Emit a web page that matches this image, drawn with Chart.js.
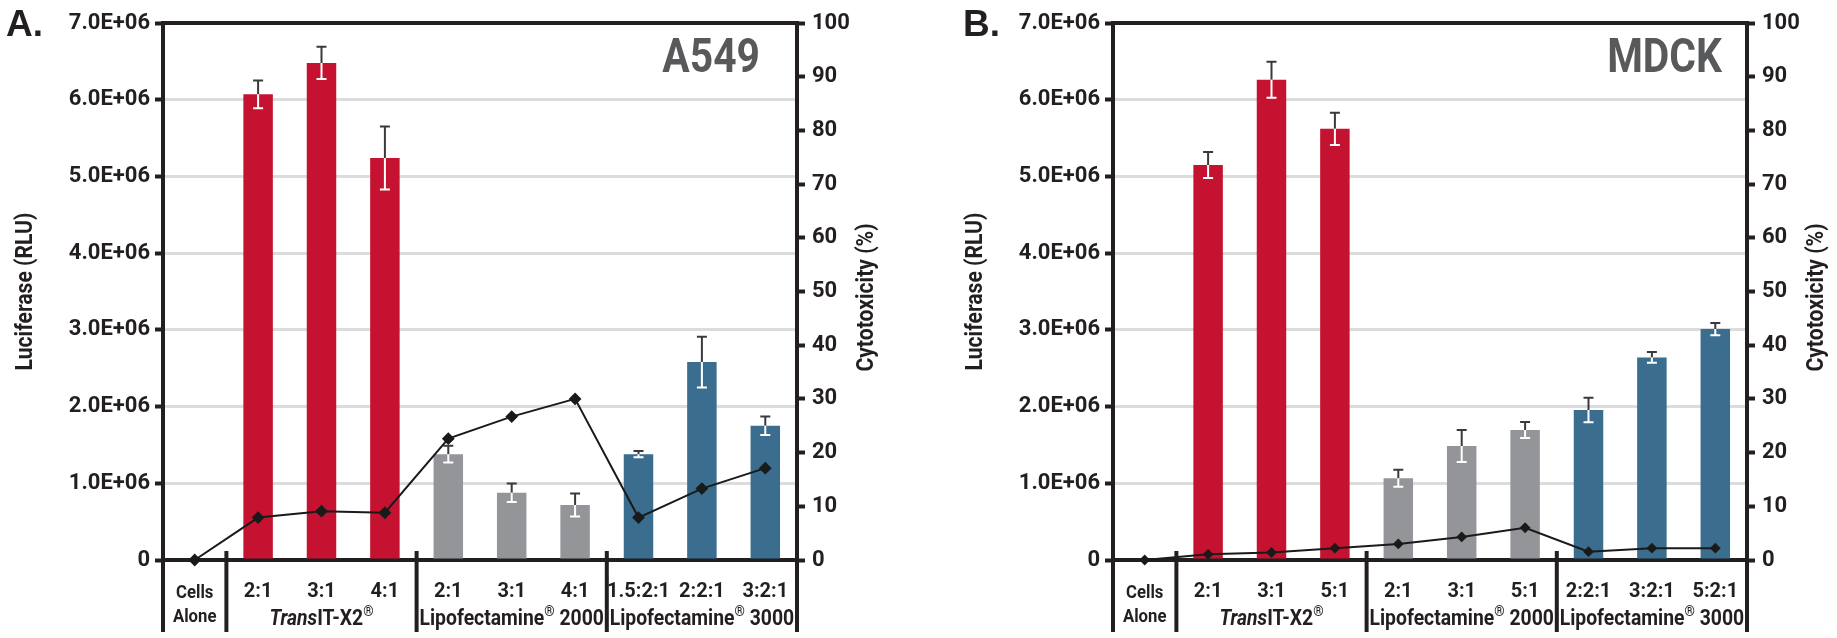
<!DOCTYPE html>
<html lang="en">
<head>
    <meta charset="UTF-8">
    <title>Luciferase e citotoxicidade - A549 e MDCK</title>
    <script src="https://cdn.jsdelivr.net/npm/chart.js"></script>
    <style>
        html, body { margin: 0; padding: 0; background: #fff; }
        .painel { position: absolute; top: 0; height: 638px; }
        #painelA { left: 0; width: 900px; }
        #painelB { left: 900px; width: 937px; }
    </style>
</head>
<body>
    <div class="painel" id="painelA"><canvas id="chartA"></canvas></div>
    <div class="painel" id="painelB"><canvas id="chartB"></canvas></div>
    <script>
        // Dados (painel A - A549)
        const razoesA = ['', '2:1', '3:1', '4:1', '2:1', '3:1', '4:1', '1.5:2:1', '2:2:1', '3:2:1'];
        const grupoIdxA = [0, 1, 1, 1, 2, 2, 2, 3, 3, 3];
        const luciferaseA = [0, 6.07e6, 6.48e6, 5.24e6, 1.38e6, 0.877e6, 0.717e6, 1.38e6, 2.58e6, 1.75e6];
        const erroA = [0, 0.18e6, 0.21e6, 0.41e6, 0.11e6, 0.12e6, 0.15e6, 0.04e6, 0.33e6, 0.12e6];
        const citotoxA = [0, 7.9, 9.1, 8.8, 22.6, 26.7, 30.0, 7.9, 13.3, 17.1];

        // Painel B - MDCK
        const razoesB = ['', '2:1', '3:1', '5:1', '2:1', '3:1', '5:1', '2:2:1', '3:2:1', '5:2:1'];
        const grupoIdxB = [0, 1, 1, 1, 2, 2, 2, 3, 3, 3];
        const luciferaseB = [0, 5.15e6, 6.26e6, 5.62e6, 1.065e6, 1.486e6, 1.695e6, 1.956e6, 2.64e6, 3.01e6];
        const erroB = [0, 0.17e6, 0.235e6, 0.21e6, 0.11e6, 0.21e6, 0.105e6, 0.16e6, 0.07e6, 0.08e6];
        const citotoxB = [0, 1.05, 1.4, 2.2, 3.0, 4.3, 6.0, 1.55, 2.2, 2.2];

        // Grupos e eixos
        const grupos = ['Cells Alone', 'TransIT-X2®', 'Lipofectamine® 2000', 'Lipofectamine® 3000'];
        const ticksEsq = [0, 1e6, 2e6, 3e6, 4e6, 5e6, 6e6, 7e6];
        const ticksDir = [0, 10, 20, 30, 40, 50, 60, 70, 80, 90, 100];

        const coresGrupo = ['#ffffff', '#c41230', '#939598', '#3a6d8e'];
        const PRETO = '#231f20';
        const FONTE = "Roboto, 'Liberation Sans', sans-serif";
        const APERTO = 0.88; // fonte "condensada" simulada nos textos do plugin

        // texto comprimido na horizontal
        function textoEstreito(ctx, texto, x, y, fator) {
            ctx.save();
            ctx.translate(x, y);
            ctx.scale(fator, 1);
            ctx.fillText(texto, 0, 0);
            ctx.restore();
        }

        // desenha texto com "Trans" em itálico e ® sobrescrito
        function textoRico(ctx, texto, cx, y, tam) {
            let partes = [];
            let resto = texto;
            if (resto.startsWith('Trans')) {
                partes.push({ t: 'Trans', it: true });
                resto = resto.slice(5);
            }
            resto.split(/(®)/).forEach(p => {
                if (p === '') return;
                partes.push({ t: p, sup: p === '®' });
            });
            const fonte = p => (p.it ? 'italic ' : '') + 'bold ' + (p.sup ? Math.round(tam * 0.7) : tam) + 'px ' + FONTE;
            let total = 0;
            partes.forEach(p => { ctx.font = fonte(p); p.w = ctx.measureText(p.t).width * APERTO; total += p.w; });
            let x = cx - total / 2;
            ctx.textAlign = 'left';
            ctx.textBaseline = 'alphabetic';
            partes.forEach(p => {
                ctx.font = fonte(p);
                textoEstreito(ctx, p.t, x, p.sup ? y - tam * 0.4 : y, APERTO);
                x += p.w;
            });
        }

        const extrasPlugin = {
            id: 'extras',
            afterDatasetDraw(chart, args) {
                if (args.index !== 0) return;
                // barras de erro
                const ctx = chart.ctx;
                const y = chart.scales.y;
                const meta = chart.getDatasetMeta(0);
                const vals = chart.data.datasets[0].data;
                const errs = chart.options.plugins.extras.erros;
                ctx.save();
                ctx.lineWidth = 2;
                meta.data.forEach((bar, i) => {
                    if (!errs[i]) return;
                    const yTopo = y.getPixelForValue(vals[i] + errs[i]);
                    const yBarra = y.getPixelForValue(vals[i]);
                    const yBaixo = y.getPixelForValue(vals[i] - errs[i]);
                    ctx.strokeStyle = '#3a3a3a';
                    ctx.beginPath();
                    ctx.moveTo(bar.x, yTopo); ctx.lineTo(bar.x, yBarra);
                    ctx.moveTo(bar.x - 5, yTopo); ctx.lineTo(bar.x + 5, yTopo);
                    ctx.stroke();
                    ctx.strokeStyle = '#ffffff';
                    ctx.beginPath();
                    ctx.moveTo(bar.x, yBarra); ctx.lineTo(bar.x, yBaixo);
                    ctx.moveTo(bar.x - 5, yBaixo); ctx.lineTo(bar.x + 5, yBaixo);
                    ctx.stroke();
                });
                ctx.restore();
            },
            afterDraw(chart) {
                const ctx = chart.ctx;
                const area = chart.chartArea;
                const x = chart.scales.x;
                const opts = chart.options.plugins.extras;
                const idx = opts.grupoIdx;
                const fundo = chart.height - 6;
                ctx.save();
                ctx.strokeStyle = PRETO;
                ctx.lineWidth = 4;
                // moldura superior e prolongamento dos eixos
                ctx.beginPath();
                ctx.moveTo(area.left - 2, area.top); ctx.lineTo(area.right + 2, area.top);
                ctx.moveTo(area.left, area.bottom); ctx.lineTo(area.left, fundo);
                ctx.moveTo(area.right, area.bottom); ctx.lineTo(area.right, fundo);
                ctx.stroke();
                // separadores entre grupos
                ctx.beginPath();
                for (let i = 1; i < idx.length; i++) {
                    if (idx[i] !== idx[i - 1]) {
                        const sx = (x.getPixelForValue(i - 1) + x.getPixelForValue(i)) / 2;
                        ctx.moveTo(sx, area.bottom - 9); ctx.lineTo(sx, fundo);
                    }
                }
                ctx.stroke();
                // nomes dos grupos
                ctx.fillStyle = PRETO;
                grupos.forEach((g, gi) => {
                    const membros = idx.map((v, i) => v === gi ? i : -1).filter(i => i >= 0);
                    const cx = (x.getPixelForValue(membros[0]) + x.getPixelForValue(membros[membros.length - 1])) / 2;
                    if (gi === 0) {
                        const linhas = g.split(' ');
                        ctx.font = 'bold 19px ' + FONTE;
                        ctx.textAlign = 'center';
                        ctx.textBaseline = 'middle';
                        textoEstreito(ctx, linhas[0], cx, 593, APERTO);
                        textoEstreito(ctx, linhas[1], cx, 617, APERTO);
                    } else {
                        textoRico(ctx, g, cx, 625, 22);
                    }
                });
                // títulos dos eixos
                ctx.font = 'bold 24px ' + FONTE;
                ctx.textAlign = 'center';
                ctx.textBaseline = 'middle';
                const cy = (area.top + area.bottom) / 2;
                ctx.save();
                ctx.translate(area.left - 137, cy);
                ctx.rotate(-Math.PI / 2);
                ctx.scale(APERTO, 1);
                ctx.fillText('Luciferase (RLU)', 0, 0);
                ctx.restore();
                ctx.save();
                ctx.translate(area.right + 70, cy + 6);
                ctx.rotate(-Math.PI / 2);
                ctx.scale(APERTO, 1);
                ctx.fillText('Cytotoxicity (%)', 0, 0);
                ctx.restore();
                // letra do painel e linhagem celular
                ctx.font = 'bold 37px "Liberation Sans", Arial, sans-serif';
                ctx.textAlign = 'left';
                ctx.textBaseline = 'alphabetic';
                ctx.fillText(opts.letra, area.left - opts.letraDx, 36);
                ctx.font = 'bold 48px ' + FONTE;
                ctx.fillStyle = '#58595b';
                ctx.textAlign = 'right';
                textoEstreito(ctx, opts.celula, area.right - opts.celulaDx, 72, 0.85);
                ctx.restore();
            }
        };

        function criarGrafico(id, razoes, grupoIdx, luciferase, erro, citotox, cfg) {
            const ctx = document.getElementById(id).getContext('2d');
            return new Chart(ctx, {
                type: 'bar',
                data: {
                    labels: razoes,
                    datasets: [{
                        type: 'bar',
                        label: 'Luciferase (RLU)',
                        data: luciferase,
                        yAxisID: 'y',
                        backgroundColor: grupoIdx.map(g => coresGrupo[g]),
                        barPercentage: 0.465,
                        categoryPercentage: 1,
                        order: 1
                    }, {
                        type: 'line',
                        label: 'Cytotoxicity (%)',
                        data: citotox,
                        yAxisID: 'y1',
                        borderColor: '#1a1a1a',
                        borderWidth: 2,
                        backgroundColor: '#1a1a1a',
                        pointStyle: 'rectRot',
                        pointRadius: cfg.raioPonto,
                        tension: 0,
                        clip: false,
                        order: 0
                    }]
                },
                options: {
                    responsive: true,
                    maintainAspectRatio: false,
                    animation: false,
                    layout: { padding: { top: 23, left: 0, right: 0, bottom: 0 } },
                    plugins: {
                        legend: { display: false },
                        tooltip: { enabled: false },
                        extras: {
                            erros: erro,
                            grupoIdx: grupoIdx,
                            letra: cfg.letra,
                            letraDx: cfg.letraDx,
                            celula: cfg.celula,
                            celulaDx: cfg.celulaDx
                        }
                    },
                    scales: {
                        x: {
                            offset: true,
                            grid: { display: false },
                            border: { display: true, color: PRETO, width: 4 },
                            ticks: {
                                color: PRETO,
                                padding: 12,
                                maxRotation: 0,
                                autoSkip: false,
                                font: { family: FONTE, size: 20, weight: 'bold' }
                            },
                            afterFit: s => { s.height = 78; }
                        },
                        y: {
                            position: 'left',
                            min: 0,
                            max: 7e6,
                            afterBuildTicks: s => { s.ticks = ticksEsq.map(v => ({ value: v })); },
                            grid: {
                                color: '#dcdcdc',
                                lineWidth: 3,
                                tickColor: PRETO,
                                tickWidth: 4,
                                tickLength: 8
                            },
                            border: { color: PRETO, width: 4 },
                            ticks: {
                                color: PRETO,
                                padding: 5,
                                font: { family: FONTE, size: 22, weight: 'bold' },
                                callback: v => v === 0 ? '0' : (v / 1e6).toFixed(1) + 'E+06'
                            },
                            afterFit: s => { s.width = cfg.larguraEsq; }
                        },
                        y1: {
                            position: 'right',
                            min: 0,
                            max: 100,
                            afterBuildTicks: s => { s.ticks = ticksDir.map(v => ({ value: v })); },
                            grid: {
                                drawOnChartArea: false,
                                tickColor: PRETO,
                                tickWidth: 4,
                                tickLength: 8
                            },
                            border: { color: PRETO, width: 4 },
                            ticks: {
                                color: PRETO,
                                padding: 7,
                                font: { family: FONTE, size: 22, weight: 'bold' }
                            },
                            afterFit: s => { s.width = cfg.larguraDir; }
                        }
                    }
                },
                plugins: [extrasPlugin]
            });
        }

        criarGrafico('chartA', razoesA, grupoIdxA, luciferaseA, erroA, citotoxA,
            { letra: 'A.', letraDx: 157, celula: 'A549', celulaDx: 37, larguraEsq: 163, larguraDir: 103, raioPonto: 5 });
        criarGrafico('chartB', razoesB, grupoIdxB, luciferaseB, erroB, citotoxB,
            { letra: 'B.', letraDx: 150, celula: 'MDCK', celulaDx: 25, larguraEsq: 213, larguraDir: 90, raioPonto: 4 });
    </script>
</body>
</html>
